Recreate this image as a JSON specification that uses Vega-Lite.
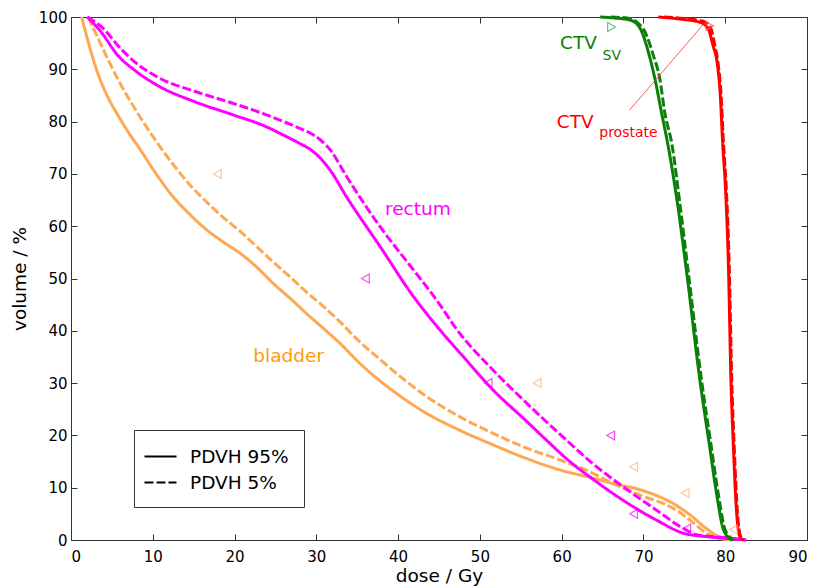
{
  "$schema": "https://vega.github.io/schema/vega-lite/v6.json",
  "width": 736,
  "height": 523,
  "autosize": {"type": "none"},
  "padding": {"left": 71, "top": 17, "right": 10, "bottom": 48},
  "background": "white",
  "config": {
    "view": {"stroke": null},
    "font": "DejaVu Sans",
    "axis": {
      "grid": false,
      "domainColor": "#333333",
      "domainWidth": 1,
      "tickColor": "#333333",
      "tickWidth": 1,
      "labelFont": "DejaVu Sans",
      "labelFontSize": 15,
      "labelColor": "#000000",
      "titleFont": "DejaVu Sans",
      "titleFontSize": 18.5,
      "titleFontWeight": "normal",
      "titleColor": "#000000"
    }
  },
  "datasets": {
    "curves": [
      {"organ": "bladder", "stat": "PDVH 95%", "dose": 1.3, "vol": 100},
      {"organ": "bladder", "stat": "PDVH 95%", "dose": 1.8, "vol": 97},
      {"organ": "bladder", "stat": "PDVH 95%", "dose": 2.4, "vol": 93.6},
      {"organ": "bladder", "stat": "PDVH 95%", "dose": 3, "vol": 90.5},
      {"organ": "bladder", "stat": "PDVH 95%", "dose": 3.7, "vol": 87.5},
      {"organ": "bladder", "stat": "PDVH 95%", "dose": 4.5, "vol": 84.7},
      {"organ": "bladder", "stat": "PDVH 95%", "dose": 5.6, "vol": 81.6},
      {"organ": "bladder", "stat": "PDVH 95%", "dose": 7, "vol": 78},
      {"organ": "bladder", "stat": "PDVH 95%", "dose": 8.4, "vol": 74.8},
      {"organ": "bladder", "stat": "PDVH 95%", "dose": 10.5, "vol": 69.8},
      {"organ": "bladder", "stat": "PDVH 95%", "dose": 12.5, "vol": 65.6},
      {"organ": "bladder", "stat": "PDVH 95%", "dose": 14.5, "vol": 62.3},
      {"organ": "bladder", "stat": "PDVH 95%", "dose": 16.6, "vol": 59.3},
      {"organ": "bladder", "stat": "PDVH 95%", "dose": 18.6, "vol": 57},
      {"organ": "bladder", "stat": "PDVH 95%", "dose": 20.7, "vol": 54.8},
      {"organ": "bladder", "stat": "PDVH 95%", "dose": 22.7, "vol": 52.2},
      {"organ": "bladder", "stat": "PDVH 95%", "dose": 24.7, "vol": 49.1},
      {"organ": "bladder", "stat": "PDVH 95%", "dose": 26.8, "vol": 46.2},
      {"organ": "bladder", "stat": "PDVH 95%", "dose": 28.8, "vol": 43.3},
      {"organ": "bladder", "stat": "PDVH 95%", "dose": 30.9, "vol": 40.4},
      {"organ": "bladder", "stat": "PDVH 95%", "dose": 32.9, "vol": 37.6},
      {"organ": "bladder", "stat": "PDVH 95%", "dose": 35.3, "vol": 33.8},
      {"organ": "bladder", "stat": "PDVH 95%", "dose": 37.5, "vol": 30.8},
      {"organ": "bladder", "stat": "PDVH 95%", "dose": 40, "vol": 27.8},
      {"organ": "bladder", "stat": "PDVH 95%", "dose": 43.5, "vol": 24.2},
      {"organ": "bladder", "stat": "PDVH 95%", "dose": 47.5, "vol": 21},
      {"organ": "bladder", "stat": "PDVH 95%", "dose": 51.6, "vol": 18.2},
      {"organ": "bladder", "stat": "PDVH 95%", "dose": 55.5, "vol": 15.7},
      {"organ": "bladder", "stat": "PDVH 95%", "dose": 59.8, "vol": 13.4},
      {"organ": "bladder", "stat": "PDVH 95%", "dose": 63.9, "vol": 11.8},
      {"organ": "bladder", "stat": "PDVH 95%", "dose": 66, "vol": 10.9},
      {"organ": "bladder", "stat": "PDVH 95%", "dose": 69.6, "vol": 9.6},
      {"organ": "bladder", "stat": "PDVH 95%", "dose": 73.6, "vol": 7},
      {"organ": "bladder", "stat": "PDVH 95%", "dose": 75.7, "vol": 4.8},
      {"organ": "bladder", "stat": "PDVH 95%", "dose": 77.7, "vol": 2.2},
      {"organ": "bladder", "stat": "PDVH 95%", "dose": 79.7, "vol": 0.3},
      {"organ": "bladder", "stat": "PDVH 95%", "dose": 81, "vol": 0},
      {"organ": "bladder", "stat": "PDVH 5%", "dose": 2.1, "vol": 100},
      {"organ": "bladder", "stat": "PDVH 5%", "dose": 3.7, "vol": 94.6},
      {"organ": "bladder", "stat": "PDVH 5%", "dose": 5.7, "vol": 88.2},
      {"organ": "bladder", "stat": "PDVH 5%", "dose": 7.8, "vol": 82.5},
      {"organ": "bladder", "stat": "PDVH 5%", "dose": 10, "vol": 77.2},
      {"organ": "bladder", "stat": "PDVH 5%", "dose": 11.3, "vol": 74.3},
      {"organ": "bladder", "stat": "PDVH 5%", "dose": 13, "vol": 70.8},
      {"organ": "bladder", "stat": "PDVH 5%", "dose": 14.6, "vol": 67.8},
      {"organ": "bladder", "stat": "PDVH 5%", "dose": 16.6, "vol": 64.6},
      {"organ": "bladder", "stat": "PDVH 5%", "dose": 18.6, "vol": 61.7},
      {"organ": "bladder", "stat": "PDVH 5%", "dose": 20.7, "vol": 59},
      {"organ": "bladder", "stat": "PDVH 5%", "dose": 22.7, "vol": 56.1},
      {"organ": "bladder", "stat": "PDVH 5%", "dose": 24.7, "vol": 53.2},
      {"organ": "bladder", "stat": "PDVH 5%", "dose": 26.8, "vol": 50.3},
      {"organ": "bladder", "stat": "PDVH 5%", "dose": 28.8, "vol": 47.4},
      {"organ": "bladder", "stat": "PDVH 5%", "dose": 30.9, "vol": 44.6},
      {"organ": "bladder", "stat": "PDVH 5%", "dose": 32.9, "vol": 41.7},
      {"organ": "bladder", "stat": "PDVH 5%", "dose": 34.9, "vol": 38.5},
      {"organ": "bladder", "stat": "PDVH 5%", "dose": 37.5, "vol": 34.9},
      {"organ": "bladder", "stat": "PDVH 5%", "dose": 40, "vol": 31.6},
      {"organ": "bladder", "stat": "PDVH 5%", "dose": 43.5, "vol": 27.4},
      {"organ": "bladder", "stat": "PDVH 5%", "dose": 47.5, "vol": 23.6},
      {"organ": "bladder", "stat": "PDVH 5%", "dose": 51.6, "vol": 20.4},
      {"organ": "bladder", "stat": "PDVH 5%", "dose": 55.5, "vol": 17.7},
      {"organ": "bladder", "stat": "PDVH 5%", "dose": 59.8, "vol": 15.3},
      {"organ": "bladder", "stat": "PDVH 5%", "dose": 63.9, "vol": 12.7},
      {"organ": "bladder", "stat": "PDVH 5%", "dose": 66, "vol": 11},
      {"organ": "bladder", "stat": "PDVH 5%", "dose": 69.6, "vol": 8.6},
      {"organ": "bladder", "stat": "PDVH 5%", "dose": 73.6, "vol": 6.1},
      {"organ": "bladder", "stat": "PDVH 5%", "dose": 75.7, "vol": 3.8},
      {"organ": "bladder", "stat": "PDVH 5%", "dose": 77.7, "vol": 1.3},
      {"organ": "bladder", "stat": "PDVH 5%", "dose": 79.7, "vol": 0.2},
      {"organ": "bladder", "stat": "PDVH 5%", "dose": 81, "vol": 0},
      {"organ": "rectum", "stat": "PDVH 5%", "dose": 2, "vol": 100},
      {"organ": "rectum", "stat": "PDVH 5%", "dose": 4.1, "vol": 97.6},
      {"organ": "rectum", "stat": "PDVH 5%", "dose": 5.7, "vol": 94.6},
      {"organ": "rectum", "stat": "PDVH 5%", "dose": 7.8, "vol": 91.4},
      {"organ": "rectum", "stat": "PDVH 5%", "dose": 10.6, "vol": 88.5},
      {"organ": "rectum", "stat": "PDVH 5%", "dose": 15.3, "vol": 85.7},
      {"organ": "rectum", "stat": "PDVH 5%", "dose": 19.8, "vol": 83.5},
      {"organ": "rectum", "stat": "PDVH 5%", "dose": 23.9, "vol": 81.3},
      {"organ": "rectum", "stat": "PDVH 5%", "dose": 26, "vol": 80},
      {"organ": "rectum", "stat": "PDVH 5%", "dose": 28, "vol": 78.7},
      {"organ": "rectum", "stat": "PDVH 5%", "dose": 29.6, "vol": 77.5},
      {"organ": "rectum", "stat": "PDVH 5%", "dose": 31.7, "vol": 74.6},
      {"organ": "rectum", "stat": "PDVH 5%", "dose": 33.7, "vol": 69.5},
      {"organ": "rectum", "stat": "PDVH 5%", "dose": 37.8, "vol": 59.9},
      {"organ": "rectum", "stat": "PDVH 5%", "dose": 41.9, "vol": 51.6},
      {"organ": "rectum", "stat": "PDVH 5%", "dose": 44.7, "vol": 45.9},
      {"organ": "rectum", "stat": "PDVH 5%", "dose": 47.2, "vol": 40.2},
      {"organ": "rectum", "stat": "PDVH 5%", "dose": 51.6, "vol": 32.5},
      {"organ": "rectum", "stat": "PDVH 5%", "dose": 55.5, "vol": 26.5},
      {"organ": "rectum", "stat": "PDVH 5%", "dose": 58, "vol": 22.8},
      {"organ": "rectum", "stat": "PDVH 5%", "dose": 61, "vol": 18.5},
      {"organ": "rectum", "stat": "PDVH 5%", "dose": 63.5, "vol": 15},
      {"organ": "rectum", "stat": "PDVH 5%", "dose": 67.5, "vol": 10.2},
      {"organ": "rectum", "stat": "PDVH 5%", "dose": 71.6, "vol": 5.7},
      {"organ": "rectum", "stat": "PDVH 5%", "dose": 74.9, "vol": 2.2},
      {"organ": "rectum", "stat": "PDVH 5%", "dose": 76.5, "vol": 1},
      {"organ": "rectum", "stat": "PDVH 5%", "dose": 79.7, "vol": 0.5},
      {"organ": "rectum", "stat": "PDVH 5%", "dose": 82.6, "vol": 0},
      {"organ": "rectum", "stat": "PDVH 95%", "dose": 2, "vol": 100},
      {"organ": "rectum", "stat": "PDVH 95%", "dose": 3.7, "vol": 97.1},
      {"organ": "rectum", "stat": "PDVH 95%", "dose": 5.7, "vol": 92.7},
      {"organ": "rectum", "stat": "PDVH 95%", "dose": 7.8, "vol": 89.8},
      {"organ": "rectum", "stat": "PDVH 95%", "dose": 10.6, "vol": 86.9},
      {"organ": "rectum", "stat": "PDVH 95%", "dose": 15.3, "vol": 83.7},
      {"organ": "rectum", "stat": "PDVH 95%", "dose": 19.8, "vol": 81.3},
      {"organ": "rectum", "stat": "PDVH 95%", "dose": 23.9, "vol": 79},
      {"organ": "rectum", "stat": "PDVH 95%", "dose": 26, "vol": 77.4},
      {"organ": "rectum", "stat": "PDVH 95%", "dose": 28, "vol": 75.8},
      {"organ": "rectum", "stat": "PDVH 95%", "dose": 29.6, "vol": 74.3},
      {"organ": "rectum", "stat": "PDVH 95%", "dose": 31.7, "vol": 70.7},
      {"organ": "rectum", "stat": "PDVH 95%", "dose": 33.7, "vol": 65.6},
      {"organ": "rectum", "stat": "PDVH 95%", "dose": 37.8, "vol": 56.1},
      {"organ": "rectum", "stat": "PDVH 95%", "dose": 41.9, "vol": 46.5},
      {"organ": "rectum", "stat": "PDVH 95%", "dose": 45.1, "vol": 40.2},
      {"organ": "rectum", "stat": "PDVH 95%", "dose": 48, "vol": 35},
      {"organ": "rectum", "stat": "PDVH 95%", "dose": 51.6, "vol": 28.7},
      {"organ": "rectum", "stat": "PDVH 95%", "dose": 55.5, "vol": 23},
      {"organ": "rectum", "stat": "PDVH 95%", "dose": 58, "vol": 19.3},
      {"organ": "rectum", "stat": "PDVH 95%", "dose": 61, "vol": 15},
      {"organ": "rectum", "stat": "PDVH 95%", "dose": 63.5, "vol": 12},
      {"organ": "rectum", "stat": "PDVH 95%", "dose": 67.5, "vol": 7.6},
      {"organ": "rectum", "stat": "PDVH 95%", "dose": 71.6, "vol": 3.8},
      {"organ": "rectum", "stat": "PDVH 95%", "dose": 74.9, "vol": 1.3},
      {"organ": "rectum", "stat": "PDVH 95%", "dose": 78, "vol": 0.6},
      {"organ": "rectum", "stat": "PDVH 95%", "dose": 81, "vol": 0.2},
      {"organ": "rectum", "stat": "PDVH 95%", "dose": 82.5, "vol": 0},
      {"organ": "CTV_SV", "stat": "PDVH 95%", "dose": 64.7, "vol": 100},
      {"organ": "CTV_SV", "stat": "PDVH 95%", "dose": 66.5, "vol": 99.8},
      {"organ": "CTV_SV", "stat": "PDVH 95%", "dose": 68.4, "vol": 99.4},
      {"organ": "CTV_SV", "stat": "PDVH 95%", "dose": 69.6, "vol": 97.8},
      {"organ": "CTV_SV", "stat": "PDVH 95%", "dose": 70.6, "vol": 93.3},
      {"organ": "CTV_SV", "stat": "PDVH 95%", "dose": 71.4, "vol": 88.2},
      {"organ": "CTV_SV", "stat": "PDVH 95%", "dose": 72.2, "vol": 81.8},
      {"organ": "CTV_SV", "stat": "PDVH 95%", "dose": 73, "vol": 75.5},
      {"organ": "CTV_SV", "stat": "PDVH 95%", "dose": 74.1, "vol": 65},
      {"organ": "CTV_SV", "stat": "PDVH 95%", "dose": 75.3, "vol": 51},
      {"organ": "CTV_SV", "stat": "PDVH 95%", "dose": 76.9, "vol": 30.6},
      {"organ": "CTV_SV", "stat": "PDVH 95%", "dose": 78.1, "vol": 17.8},
      {"organ": "CTV_SV", "stat": "PDVH 95%", "dose": 79, "vol": 8.3},
      {"organ": "CTV_SV", "stat": "PDVH 95%", "dose": 79.8, "vol": 1.9},
      {"organ": "CTV_SV", "stat": "PDVH 95%", "dose": 80.8, "vol": 0},
      {"organ": "CTV_SV", "stat": "PDVH 5%", "dose": 66, "vol": 100},
      {"organ": "CTV_SV", "stat": "PDVH 5%", "dose": 68, "vol": 99.8},
      {"organ": "CTV_SV", "stat": "PDVH 5%", "dose": 69.2, "vol": 99},
      {"organ": "CTV_SV", "stat": "PDVH 5%", "dose": 70.2, "vol": 97.1},
      {"organ": "CTV_SV", "stat": "PDVH 5%", "dose": 71.2, "vol": 92.7},
      {"organ": "CTV_SV", "stat": "PDVH 5%", "dose": 72, "vol": 88.2},
      {"organ": "CTV_SV", "stat": "PDVH 5%", "dose": 72.6, "vol": 81.8},
      {"organ": "CTV_SV", "stat": "PDVH 5%", "dose": 73.5, "vol": 75.5},
      {"organ": "CTV_SV", "stat": "PDVH 5%", "dose": 74.4, "vol": 65},
      {"organ": "CTV_SV", "stat": "PDVH 5%", "dose": 75.5, "vol": 51},
      {"organ": "CTV_SV", "stat": "PDVH 5%", "dose": 77.1, "vol": 30.6},
      {"organ": "CTV_SV", "stat": "PDVH 5%", "dose": 78.3, "vol": 17.8},
      {"organ": "CTV_SV", "stat": "PDVH 5%", "dose": 79.2, "vol": 8.3},
      {"organ": "CTV_SV", "stat": "PDVH 5%", "dose": 80, "vol": 1.9},
      {"organ": "CTV_SV", "stat": "PDVH 5%", "dose": 81, "vol": 0},
      {"organ": "CTV_prostate", "stat": "PDVH 95%", "dose": 71.8, "vol": 100},
      {"organ": "CTV_prostate", "stat": "PDVH 95%", "dose": 74.5, "vol": 99.6},
      {"organ": "CTV_prostate", "stat": "PDVH 95%", "dose": 76.9, "vol": 99},
      {"organ": "CTV_prostate", "stat": "PDVH 95%", "dose": 77.9, "vol": 97.8},
      {"organ": "CTV_prostate", "stat": "PDVH 95%", "dose": 78.5, "vol": 94.6},
      {"organ": "CTV_prostate", "stat": "PDVH 95%", "dose": 79, "vol": 91.4},
      {"organ": "CTV_prostate", "stat": "PDVH 95%", "dose": 79.4, "vol": 85},
      {"organ": "CTV_prostate", "stat": "PDVH 95%", "dose": 79.7, "vol": 75.5},
      {"organ": "CTV_prostate", "stat": "PDVH 95%", "dose": 80, "vol": 68.2},
      {"organ": "CTV_prostate", "stat": "PDVH 95%", "dose": 80.4, "vol": 52},
      {"organ": "CTV_prostate", "stat": "PDVH 95%", "dose": 80.7, "vol": 30.6},
      {"organ": "CTV_prostate", "stat": "PDVH 95%", "dose": 81, "vol": 17.8},
      {"organ": "CTV_prostate", "stat": "PDVH 95%", "dose": 81.4, "vol": 5.1},
      {"organ": "CTV_prostate", "stat": "PDVH 95%", "dose": 81.8, "vol": 0.6},
      {"organ": "CTV_prostate", "stat": "PDVH 95%", "dose": 82.2, "vol": 0},
      {"organ": "CTV_prostate", "stat": "PDVH 5%", "dose": 72.5, "vol": 100},
      {"organ": "CTV_prostate", "stat": "PDVH 5%", "dose": 75, "vol": 99.7},
      {"organ": "CTV_prostate", "stat": "PDVH 5%", "dose": 77.3, "vol": 99.2},
      {"organ": "CTV_prostate", "stat": "PDVH 5%", "dose": 78.2, "vol": 98},
      {"organ": "CTV_prostate", "stat": "PDVH 5%", "dose": 78.7, "vol": 94.8},
      {"organ": "CTV_prostate", "stat": "PDVH 5%", "dose": 79.1, "vol": 91.4},
      {"organ": "CTV_prostate", "stat": "PDVH 5%", "dose": 79.5, "vol": 85},
      {"organ": "CTV_prostate", "stat": "PDVH 5%", "dose": 79.8, "vol": 75.5},
      {"organ": "CTV_prostate", "stat": "PDVH 5%", "dose": 80.1, "vol": 68.2},
      {"organ": "CTV_prostate", "stat": "PDVH 5%", "dose": 80.5, "vol": 52},
      {"organ": "CTV_prostate", "stat": "PDVH 5%", "dose": 80.8, "vol": 30.6},
      {"organ": "CTV_prostate", "stat": "PDVH 5%", "dose": 81.1, "vol": 17.8},
      {"organ": "CTV_prostate", "stat": "PDVH 5%", "dose": 81.5, "vol": 5.1},
      {"organ": "CTV_prostate", "stat": "PDVH 5%", "dose": 81.9, "vol": 0.6},
      {"organ": "CTV_prostate", "stat": "PDVH 5%", "dose": 82.3, "vol": 0}
    ],
    "markers": [
      {"organ": "bladder", "dir": "left", "dose": 17.9, "vol": 70},
      {"organ": "bladder", "dir": "left", "dose": 57, "vol": 30},
      {"organ": "bladder", "dir": "left", "dose": 68.8, "vol": 14},
      {"organ": "bladder", "dir": "left", "dose": 75.1, "vol": 9},
      {"organ": "bladder", "dir": "left", "dose": 81, "vol": 2},
      {"organ": "rectum", "dir": "left", "dose": 36, "vol": 50},
      {"organ": "rectum", "dir": "left", "dose": 51, "vol": 30},
      {"organ": "rectum", "dir": "left", "dose": 66, "vol": 20},
      {"organ": "rectum", "dir": "left", "dose": 68.8, "vol": 5},
      {"organ": "rectum", "dir": "left", "dose": 75.3, "vol": 2.2},
      {"organ": "CTV_SV", "dir": "right", "dose": 66.1, "vol": 98.1},
      {"organ": "CTV_prostate", "dir": "right", "dose": 78.1, "vol": 98.3}
    ],
    "labels": [
      {"organ": "rectum", "part": "main", "label": "rectum", "dose": 38.4, "vol": 62.1},
      {"organ": "bladder", "part": "main", "label": "bladder", "dose": 22.3, "vol": 34.1},
      {"organ": "CTV_SV", "part": "main", "label": "CTV", "dose": 59.8, "vol": 93.8},
      {"organ": "CTV_prostate", "part": "main", "label": "CTV", "dose": 59.4, "vol": 78.7},
      {"organ": "CTV_SV", "part": "sub", "label": "SV", "dose": 65, "vol": 91.8},
      {"organ": "CTV_prostate", "part": "sub", "label": "prostate", "dose": 64.6, "vol": 77}
    ],
    "leader": [
      {"dose": 68.3, "vol": 82.2, "dose2": 77.5, "vol2": 98.9}
    ]
  },
  "layer": [
    {
      "data": {"name": "curves"},
      "mark": {"type": "line", "strokeWidth": 3, "interpolate": "monotone"},
      "encoding": {
        "x": {
          "field": "dose", "type": "quantitative",
          "scale": {"domain": [0, 90], "nice": false},
          "axis": {
            "orient": "bottom", "title": "dose / Gy",
            "values": [0, 10, 20, 30, 40, 50, 60, 70, 80, 90],
            "tickSize": -6, "labelPadding": 15, "titlePadding": 2
          }
        },
        "y": {
          "field": "vol", "type": "quantitative",
          "scale": {"domain": [0, 100], "nice": false},
          "axis": {
            "orient": "left", "title": "volume / %",
            "values": [0, 10, 20, 30, 40, 50, 60, 70, 80, 90, 100],
            "tickSize": -6, "labelPadding": 10, "titlePadding": 9
          }
        },
        "color": {
          "field": "organ", "type": "nominal",
          "scale": {"domain": ["bladder", "rectum", "CTV_SV", "CTV_prostate"], "range": ["#FFA852", "#FF00FF", "#0A800A", "#FF0000"]},
          "legend": null
        },
        "strokeDash": {
          "field": "stat", "type": "nominal",
          "scale": {"domain": ["PDVH 95%", "PDVH 5%"], "range": [[1, 0], [9, 3]]},
          "legend": {
            "title": null,
            "orient": "none",
            "legendX": 63,
            "legendY": 413,
            "direction": "vertical",
            "symbolType": "M-1.6,0H1.6",
            "symbolSize": 400,
            "symbolStrokeColor": "#000000",
            "symbolStrokeWidth": 2.2,
            "symbolFillColor": "transparent",
            "labelFont": "DejaVu Sans",
            "labelFontSize": 18.5,
            "labelColor": "#000000",
            "labelOffset": 18,
            "strokeColor": "#333333",
            "fillColor": "#FFFFFF",
            "padding": 15,
            "rowPadding": 5
          }
        }
      }
    },
    {
      "data": {"name": "markers"},
      "mark": {"type": "point", "filled": false, "size": 80, "strokeWidth": 1.2},
      "encoding": {
        "x": {
          "field": "dose", "type": "quantitative",
          "scale": {"domain": [0, 90], "nice": false},
          "axis": {"orient": "top", "title": null, "labels": false, "values": [0, 10, 20, 30, 40, 50, 60, 70, 80, 90], "tickSize": -6}
        },
        "y": {
          "field": "vol", "type": "quantitative",
          "scale": {"domain": [0, 100], "nice": false},
          "axis": {"orient": "right", "title": null, "labels": false, "values": [0, 10, 20, 30, 40, 50, 60, 70, 80, 90, 100], "tickSize": -6}
        },
        "shape": {
          "field": "dir", "type": "nominal",
          "scale": {"domain": ["left", "right"], "range": ["triangle-left", "triangle-right"]},
          "legend": null
        },
        "color": {
          "field": "organ", "type": "nominal",
          "scale": {"domain": ["bladder", "rectum", "CTV_SV", "CTV_prostate"], "range": ["#FFB070", "#FF00FF", "#3C9A6A", "#FF5A5A"]},
          "legend": null
        }
      }
    },
    {
      "data": {"name": "leader"},
      "mark": {"type": "rule", "color": "#FF3030", "strokeWidth": 0.8},
      "encoding": {
        "x": {"field": "dose", "type": "quantitative", "scale": {"domain": [0, 90], "nice": false}, "axis": null},
        "y": {"field": "vol", "type": "quantitative", "scale": {"domain": [0, 100], "nice": false}, "axis": null},
        "x2": {"field": "dose2"},
        "y2": {"field": "vol2"}
      }
    },
    {
      "data": {"name": "labels"},
      "transform": [{"filter": "datum.part === 'main'"}],
      "mark": {"type": "text", "align": "left", "baseline": "alphabetic", "fontSize": 18.5, "font": "DejaVu Sans"},
      "encoding": {
        "x": {"field": "dose", "type": "quantitative", "scale": {"domain": [0, 90], "nice": false}, "axis": null},
        "y": {"field": "vol", "type": "quantitative", "scale": {"domain": [0, 100], "nice": false}, "axis": null},
        "text": {"field": "label"},
        "color": {
          "field": "organ", "type": "nominal",
          "scale": {"domain": ["bladder", "rectum", "CTV_SV", "CTV_prostate"], "range": ["#FF9A10", "#FF00FF", "#0A800A", "#FF0000"]},
          "legend": null
        }
      }
    },
    {
      "data": {"name": "labels"},
      "transform": [{"filter": "datum.part === 'sub'"}],
      "mark": {"type": "text", "align": "left", "baseline": "alphabetic", "fontSize": 14, "font": "DejaVu Sans"},
      "encoding": {
        "x": {"field": "dose", "type": "quantitative", "scale": {"domain": [0, 90], "nice": false}, "axis": null},
        "y": {"field": "vol", "type": "quantitative", "scale": {"domain": [0, 100], "nice": false}, "axis": null},
        "text": {"field": "label"},
        "color": {
          "field": "organ", "type": "nominal",
          "scale": {"domain": ["bladder", "rectum", "CTV_SV", "CTV_prostate"], "range": ["#FF9A10", "#FF00FF", "#0A800A", "#FF0000"]},
          "legend": null
        }
      }
    }
  ],
  "resolve": {
    "axis": {"x": "independent", "y": "independent"},
    "scale": {"color": "independent"}
  }
}
